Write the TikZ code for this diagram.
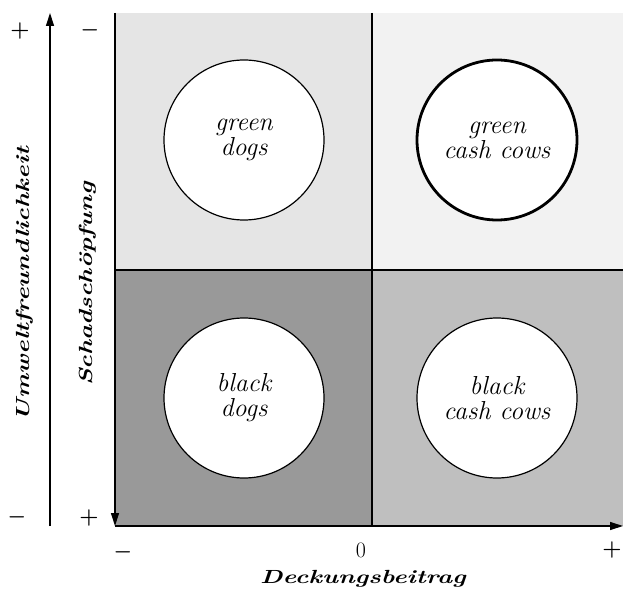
\documentclass[tikz,border=0pt]{standalone}
\usetikzlibrary{arrows.meta}
\begin{document}
\begin{tikzpicture}[x=1pt,y=-1pt,
  quad/.style={circle,draw=black,fill=white,minimum size=160pt,inner sep=0pt,line width=1.2pt,align=center,
     font=\fontsize{26}{25}\selectfont\itshape},
  sign/.style={font=\fontsize{22}{22}\selectfont\bfseries\boldmath,inner sep=0pt},
  axlabel/.style={font=\fontsize{19}{19}\selectfont\bfseries\itshape,inner sep=0pt},
  axline/.style={line width=1.2pt},
  tip/.style={-{Triangle[length=13pt,width=8pt]}}]
\useasboundingbox (0,0) rectangle (623,593);
% quadrants
\fill[black!10] (115,13) rectangle (372,270);
\fill[black!5] (372,13) rectangle (623,270);
\fill[black!40] (115,270) rectangle (372,526);
\fill[black!25] (372,270) rectangle (623,526);
\coordinate (mt) at (372,13);
\coordinate (mb) at (372,526);
\coordinate (ml) at (115,270);
\coordinate (mr) at (623,270);
\draw[axline] (mt) -- (mb);
\draw[axline] (ml) -- (mr);
% axes
\coordinate (vtop) at (115,13);
\coordinate (origin) at (115,526);
\coordinate (xend) at (623,526);
\draw[axline,tip] (vtop) -- (origin);
\draw[axline,tip] (origin) -- (xend);
\coordinate (ubot) at (50,526);
\coordinate (utop) at (50,13);
\draw[axline,tip] (ubot) -- (utop);
% circles
\node[quad] (gd) at (244,140) {green\\dogs};
\node[quad,line width=2.8pt] (gc) at (497,140) {green\\cash cows};
\node[quad] (bd) at (244,398) {black\\dogs};
\node[quad] (bc) at (497,398) {black\\cash cows};
% signs
\node[sign] (s1) at (20,31) {+};
\node[sign] (s2) at (90,30) {$-$};
\node[sign] (s3) at (17,517) {$-$};
\node[sign] (s4) at (89,518) {+};
\node[sign] (s5) at (123,552) {$-$};
\node[sign,font=\fontsize{22}{22}\selectfont] (s6) at (361,550) {0};
\node[sign] (s7) at (612,550) {+};
% labels
\node[axlabel] (xl) at (363,579) {\scalebox{1.35}[1]{Deckungsbeitrag}};
\node[axlabel,rotate=90] (ul) at (25,284) {\scalebox{1.35}[1]{Umweltfreundlichkeit}};
\node[axlabel,rotate=90] (sl) at (88,284) {\scalebox{1.35}[1]{Schadsch\"opfung}};
\end{tikzpicture}
\end{document}
